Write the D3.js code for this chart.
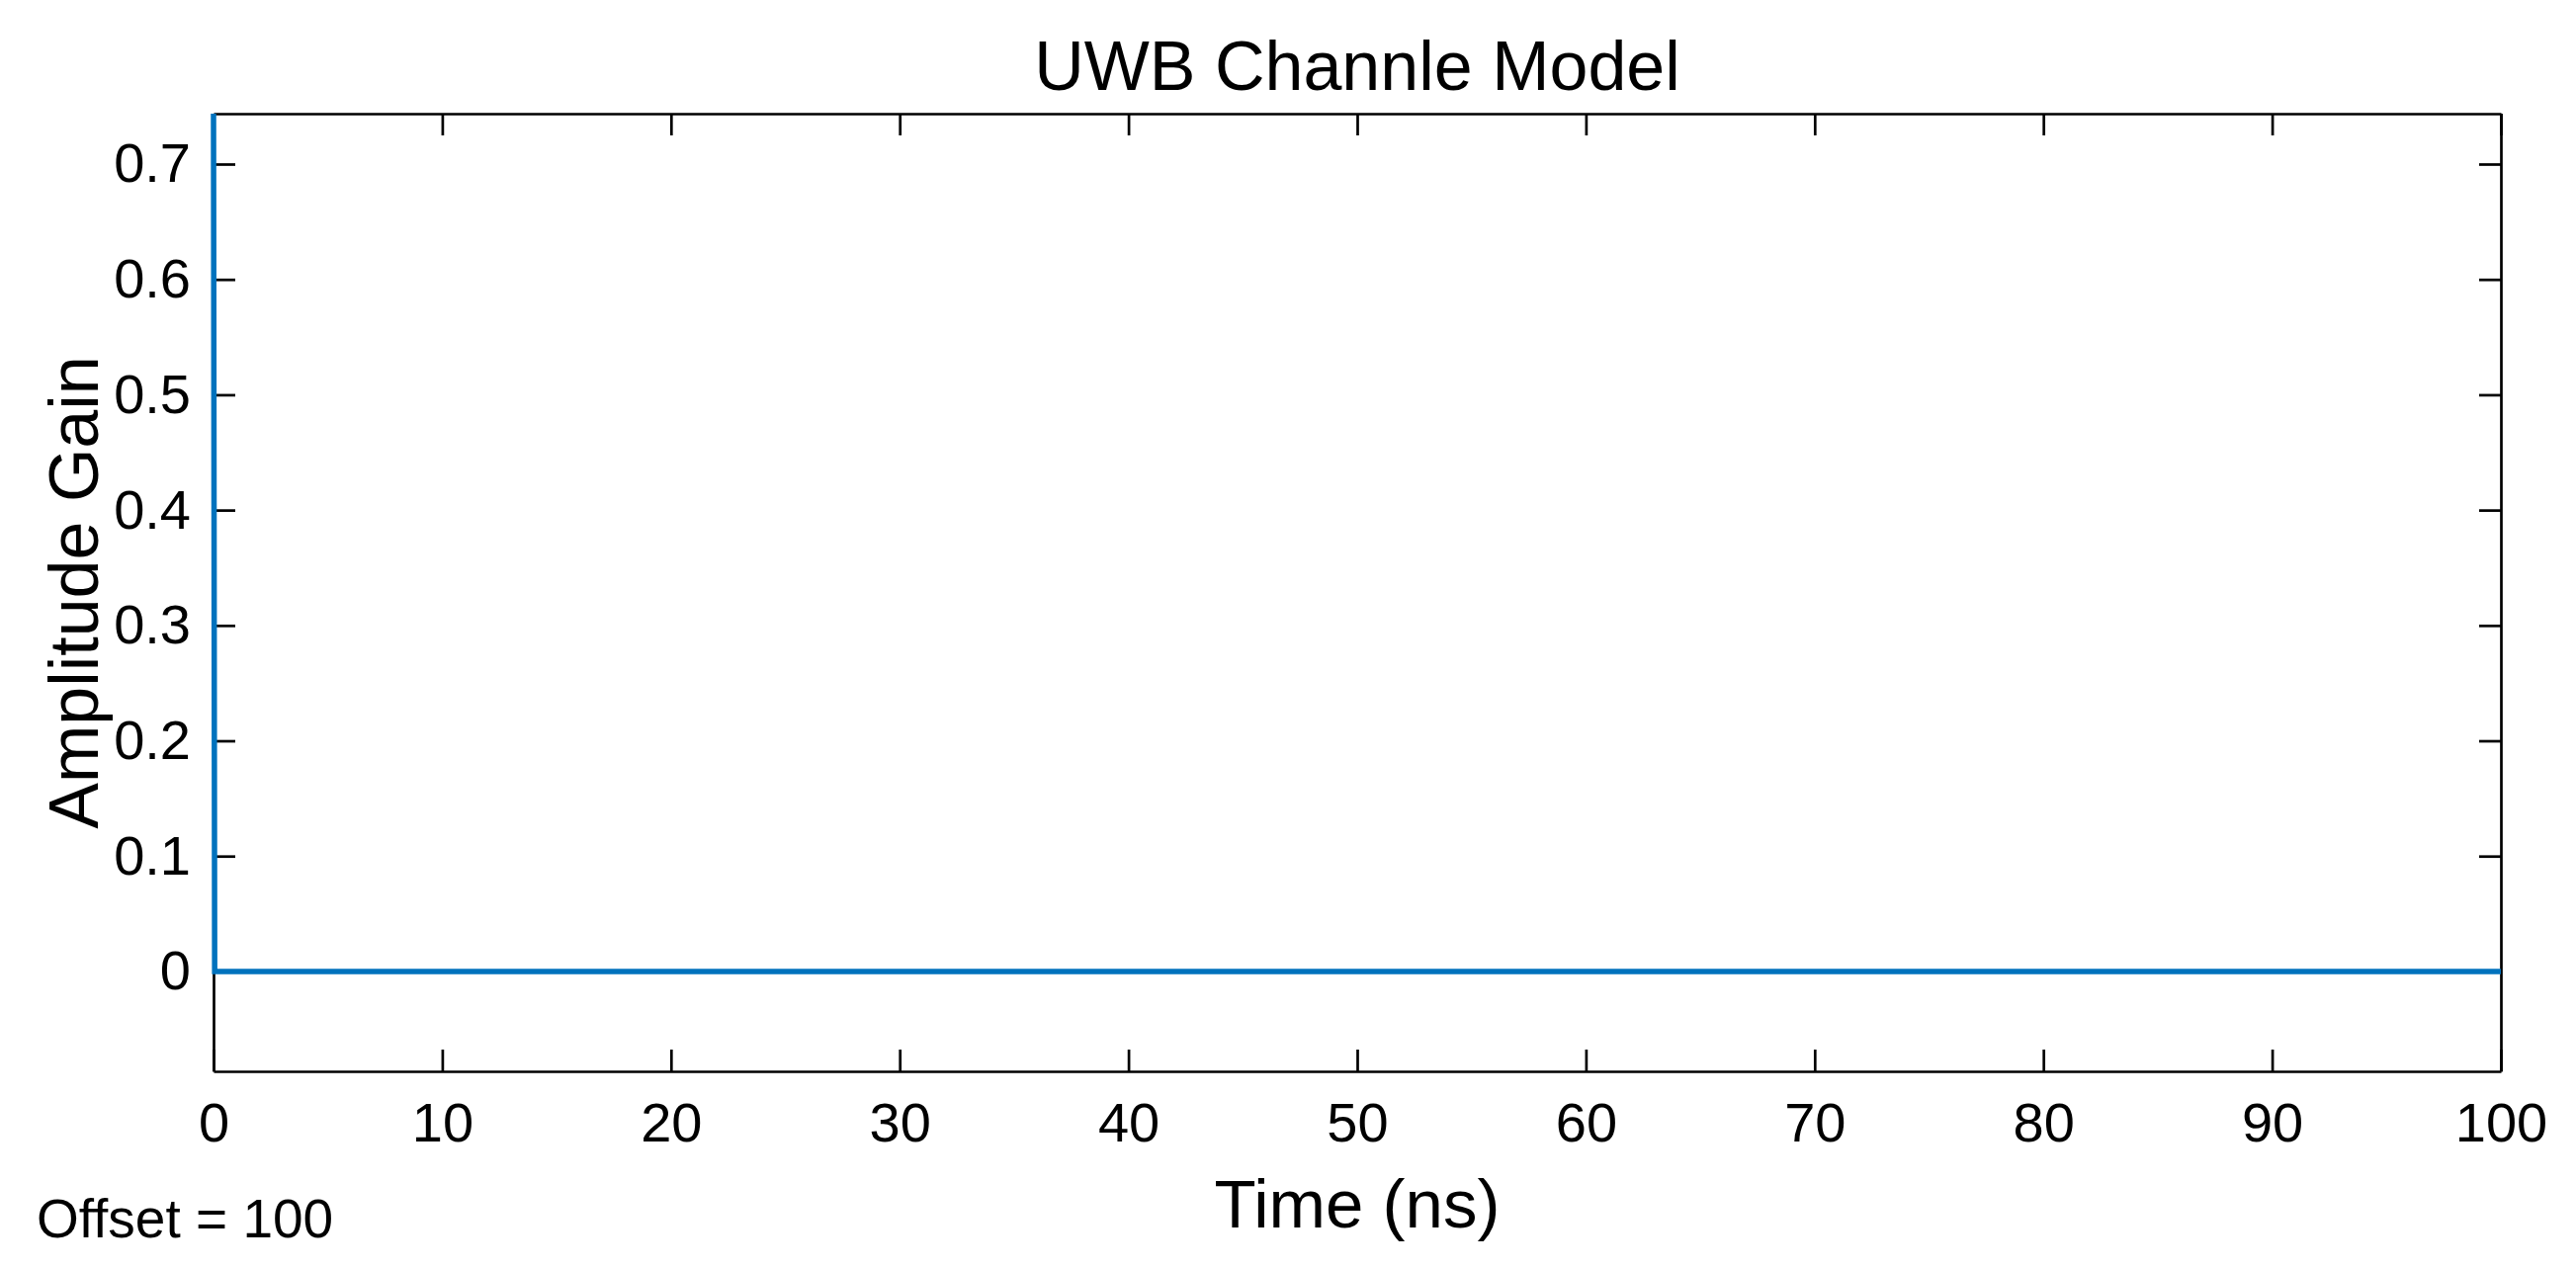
<!DOCTYPE html>
<html>
<head>
<meta charset="utf-8">
<script src="https://cdn.jsdelivr.net/npm/d3@7"></script>
<style>
  body { margin: 0; background: #fff; }
  text { font-family: "Liberation Sans", Arial, sans-serif; fill: #000; }
</style>
</head>
<body>
<script>
// channel impulse response
var timeNs = [0, 0.05, 100];
var amplitude = [0.744, 0, 0];

var xTicks = [0, 10, 20, 30, 40, 50, 60, 70, 80, 90, 100];
var xTickLabels = ["0", "10", "20", "30", "40", "50", "60", "70", "80", "90", "100"];
var yTicks = [0, 0.1, 0.2, 0.3, 0.4, 0.5, 0.6, 0.7];
var yTickLabels = ["0", "0.1", "0.2", "0.3", "0.4", "0.5", "0.6", "0.7"];
var xLimits = [0, 100];
var yLimits = [-0.0866, 0.7437];

var W = 2606, H = 1283;
// plot box edges (careful: "top" is taken by window.top)
var boxL = 216, boxR = 2530, boxT = 115, boxB = 1084;

var svg = d3.select("body").append("svg")
  .attr("width", W)
  .attr("height", H);

svg.append("rect").attr("width", W).attr("height", H).attr("fill", "#fff");

var x = d3.scaleLinear().domain(xLimits).range([boxL, boxR]);
var y = d3.scaleLinear().domain(yLimits).range([boxB, boxT]);

// axes, ticks pointing inward on all four sides
function styleAxis(g) {
  g.attr("font-family", null);
  g.selectAll("path, line").attr("stroke", "#000").attr("stroke-width", 2.7);
  g.selectAll("text").style("font-size", "56px").attr("fill", "#000");
}

svg.append("g")
  .attr("transform", "translate(0," + boxB + ")")
  .call(d3.axisBottom(x).tickValues(xTicks)
    .tickFormat(function(d, i) { return xTickLabels[i]; })
    .tickSizeInner(-22).tickSizeOuter(0).tickPadding(31))
  .call(styleAxis);

svg.append("g")
  .attr("transform", "translate(0," + boxT + ")")
  .call(d3.axisTop(x).tickValues(xTicks).tickFormat("")
    .tickSizeInner(-22).tickSizeOuter(0))
  .call(styleAxis);

svg.append("g")
  .attr("transform", "translate(" + boxL + ",0)")
  .call(d3.axisLeft(y).tickValues(yTicks)
    .tickFormat(function(d, i) { return yTickLabels[i]; })
    .tickSizeInner(-22).tickSizeOuter(0).tickPadding(23))
  .call(styleAxis);

svg.append("g")
  .attr("transform", "translate(" + boxR + ",0)")
  .call(d3.axisRight(y).tickValues(yTicks).tickFormat("")
    .tickSizeInner(-22).tickSizeOuter(0))
  .call(styleAxis);

// the signal itself, on top of the box
svg.append("clipPath").attr("id", "plotclip")
  .append("rect")
  .attr("x", boxL - 4).attr("y", boxT)
  .attr("width", boxR - boxL + 4).attr("height", boxB - boxT);

var pts = timeNs.map(function(t, i) { return [t, amplitude[i]]; });
var line = d3.line()
  .x(function(d) { return x(d[0]); })
  .y(function(d) { return y(d[1]); });

svg.append("path")
  .datum(pts)
  .attr("clip-path", "url(#plotclip)")
  .attr("d", line)
  .attr("fill", "none")
  .attr("stroke", "#0072BD")
  .attr("stroke-width", 5.5);

// labels
svg.append("text")
  .attr("x", (boxL + boxR) / 2)
  .attr("y", 91)
  .attr("text-anchor", "middle")
  .style("font-size", "70px")
  .text("UWB Channle Model");

svg.append("text")
  .attr("x", (boxL + boxR) / 2)
  .attr("y", 1242)
  .attr("text-anchor", "middle")
  .style("font-size", "69px")
  .text("Time (ns)");

svg.append("text")
  .attr("transform", "translate(99," + (boxT + boxB) / 2 + ") rotate(-90)")
  .attr("text-anchor", "middle")
  .style("font-size", "70px")
  .text("Amplitude Gain");

svg.append("text")
  .attr("x", 37)
  .attr("y", 1252)
  .style("font-size", "55px")
  .text("Offset = 100");
</script>
</body>
</html>
